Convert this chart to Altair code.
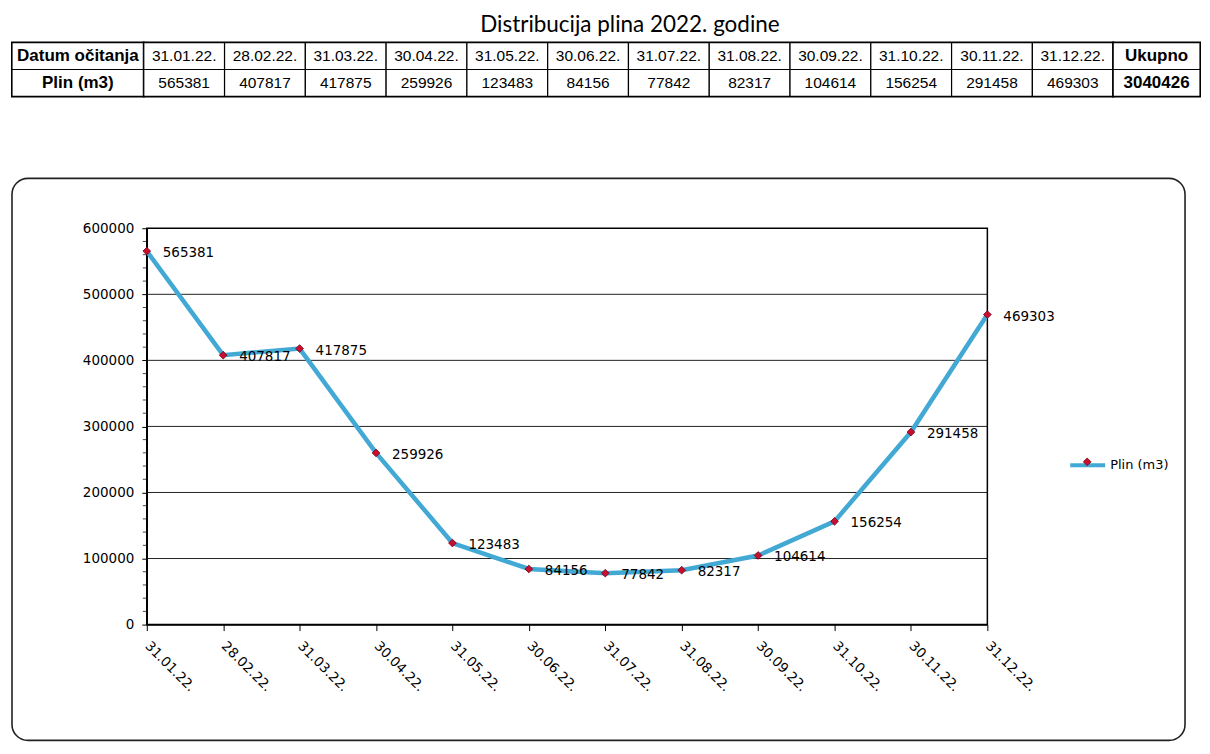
import altair as alt
import pandas as pd

# ---------------- data ----------------
dates = ["31.01.22.", "28.02.22.", "31.03.22.", "30.04.22.", "31.05.22.", "30.06.22.",
         "31.07.22.", "31.08.22.", "30.09.22.", "31.10.22.", "30.11.22.", "31.12.22."]
values = [565381, 407817, 417875, 259926, 123483, 84156,
          77842, 82317, 104614, 156254, 291458, 469303]
total = 3040426
row_labels = ["Datum očitanja", "Plin (m3)"]
total_header = "Ukupno"
series_name = "Plin (m3)"
title_text = "Distribucija plina 2022. godine"
y_ticks = [0, 100000, 200000, 300000, 400000, 500000, 600000]
y_minor = [20000, 40000, 60000, 80000, 120000, 140000, 160000, 180000,
           220000, 240000, 260000, 280000, 320000, 340000, 360000, 380000,
           420000, 440000, 460000, 480000, 520000, 540000, 560000, 580000]

FONT_T = "Liberation Sans"
FONT_C = "DejaVu Sans"
LINE_BLUE = "#42a8d4"
POINT_RED = "#c8102e"
rows = ["h", "v"]

# ---------------- table ----------------
def table_chart(cols, texts_h, texts_v, width, bold_h, bold_v):
    df = pd.DataFrame({
        "col": cols * 2,
        "row": ["h"] * len(cols) + ["v"] * len(cols),
        "text": texts_h + texts_v,
        "bold": [bold_h] * len(cols) + [bold_v] * len(cols),
    })
    x = alt.X("col:N", sort=cols, axis=None,
              scale=alt.Scale(paddingInner=0, paddingOuter=0))
    y = alt.Y("row:N", sort=rows, axis=None,
              scale=alt.Scale(paddingInner=0, paddingOuter=0))
    rect = alt.Chart(df).mark_rect(fill="white", stroke="black", strokeWidth=1.2).encode(x=x, y=y)
    txt_b = alt.Chart(df).transform_filter("datum.bold").mark_text(
        font=FONT_T, fontSize=17, fontWeight="bold", color="black").encode(x=x, y=y, text="text:N")
    txt_n = alt.Chart(df).transform_filter("!datum.bold").mark_text(
        font=FONT_T, fontSize=15.5, fontWeight="normal", color="black").encode(x=x, y=y, text="text:N")
    return alt.layer(rect, txt_b, txt_n).properties(
        width=width, height=54,
        view=alt.ViewBackground(stroke="black", strokeWidth=2, fill="white"))

label_tab = table_chart(["lab"], [row_labels[0]], [row_labels[1]], 132, True, True)
date_tab = table_chart(dates, dates, [str(v) for v in values], 971, False, False)
total_tab = table_chart(["tot"], [total_header], [str(total)], 87, True, True)

table_row = alt.hconcat(label_tab, date_tab, total_tab, spacing=0, bounds="flush").properties(
    title=alt.TitleParams(text=title_text, font="Lato", fontSize=22.5, fontWeight="normal",
                          color="black", anchor="middle", dx=24, offset=4))

# ---------------- line chart ----------------
df = pd.DataFrame({"date": dates, "value": values, "series": series_name, "series2": series_name})

xs = alt.Scale(type="point", domain=dates, range=[135, 977], padding=0)
ys = alt.Scale(domain=[0, 600000], range=[447, 50], nice=False, zero=True)

xaxis = alt.Axis(orient="bottom", offset=-116, title=None, labelAngle=45, labelAlign="left",
                 labelBaseline="middle", labelFont=FONT_C, labelFontSize=13.5, labelColor="black",
                 domainColor="black", domainWidth=1.5, tickColor="black", tickSize=6,
                 labelPadding=13, grid=False, labelOverlap=False)
yaxis = alt.Axis(orient="left", offset=-135, title=None, values=y_ticks, format="d",
                 labelFont=FONT_C, labelFontSize=13.5, labelColor="black",
                 domainColor="black", domainWidth=1.5, tickColor="black", tickSize=5,
                 labelPadding=8, grid=False)

def X(**kw):
    return alt.X(scale=xs, axis=xaxis, type="ordinal", **kw)

def Y(**kw):
    return alt.Y(scale=ys, axis=yaxis, type="quantitative", **kw)

grid = alt.Chart(pd.DataFrame({"value": y_ticks[1:-1]})).mark_rule(
    color="#222222", strokeWidth=1).encode(
    y=Y(field="value"), x=X(datum=dates[0]), x2=alt.X2(datum=dates[-1]))

minor = alt.Chart(pd.DataFrame({"value": y_minor})).mark_tick(
    orient="horizontal", color="black", size=4, thickness=1, xOffset=-2).encode(
    y=Y(field="value"), x=X(datum=dates[0]))

frame = alt.Chart(pd.DataFrame({"a": [0]})).mark_rect(
    fillOpacity=0, stroke="black", strokeWidth=1.5).encode(
    x=X(datum=dates[0]), x2=alt.X2(datum=dates[-1]),
    y=Y(datum=0), y2=alt.Y2(datum=600000))

line = alt.Chart(df).mark_line(strokeWidth=4.5).encode(
    x=X(field="date"), y=Y(field="value"),
    color=alt.Color("series:N", scale=alt.Scale(range=[LINE_BLUE]),
                    legend=alt.Legend(title=None, orient="none", legendX=1058, legendY=268,
                                      symbolType="stroke", symbolStrokeWidth=4, symbolSize=1225,
                                      labelFont=FONT_C, labelFontSize=13, labelColor="black",
                                      labelOffset=3)))

points = alt.Chart(df).mark_point(shape="diamond", filled=True, size=60, opacity=1,
                                  stroke="#7a0019", strokeWidth=0.8).encode(
    x=X(field="date"), y=Y(field="value"),
    fill=alt.Fill("series2:N", scale=alt.Scale(range=[POINT_RED]),
                  legend=alt.Legend(title=None, orient="none", legendX=1072, legendY=279,
                                    symbolType="diamond", symbolSize=60,
                                    symbolStrokeColor="#7a0019", symbolStrokeWidth=0.8,
                                    labelExpr="''")))

labels = alt.Chart(df).mark_text(align="left", baseline="middle", dx=16, dy=2,
                                 font=FONT_C, fontSize=13.5, color="black").encode(
    x=X(field="date"), y=Y(field="value"), text=alt.Text("value:Q", format="d"))

chart_sec = alt.layer(grid, minor, frame, line, points, labels).resolve_legend(
    color="independent", fill="independent").properties(
    width=1175, height=563,
    view=alt.ViewBackground(stroke="#222222", strokeWidth=1.6, cornerRadius=16, fill="white"))

chart = alt.vconcat(table_row, chart_sec, spacing=79).properties(
    padding={"left": 2, "top": 5, "right": 0, "bottom": 0},
    background="white")

chart.save("out.html", embed_options={"renderer": "svg", "actions": False})
